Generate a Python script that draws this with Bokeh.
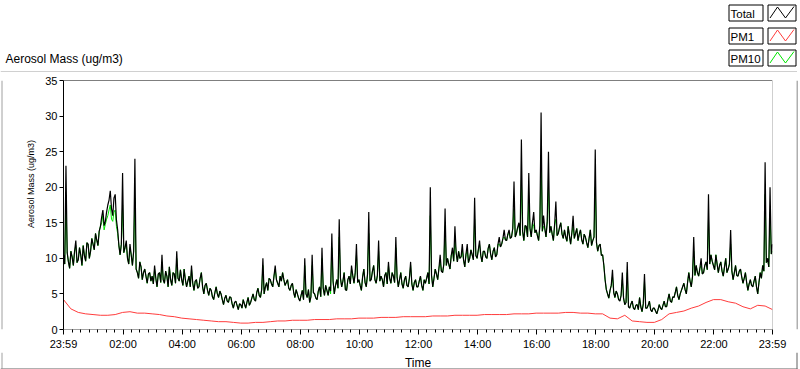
import math
from bokeh.plotting import figure
from bokeh.layouts import column, row
from bokeh.models import Range1d, FixedTicker, Span
from bokeh.core.properties import value
from bokeh.embed import file_html
from bokeh.resources import INLINE

# ---------------- data ----------------
# Total and PM10: one reading every 2.5 minutes after 23:59 (24 readings per hour)
total = [
    10.5, 9.2, 23.0, 10.8, 9.5, 8.6, 11.0, 10.2, 9.0, 11.0, 12.5, 9.4, 9.8, 11.5, 10.5, 9.0, 11.8, 10.4, 9.6, 12.2, 12.0, 10.0, 11.0, 12.8,
    12.0, 11.2, 13.5, 12.6, 11.8, 13.8, 14.5, 15.8, 16.8, 14.6, 15.2, 16.5, 17.5, 18.2, 19.5, 17.0, 16.0, 18.5, 19.0, 15.4, 14.0, 11.8, 10.5, 12.0,
    22.0, 10.8, 11.5, 12.5, 10.0, 9.2, 12.0, 10.5, 9.0, 11.0, 24.0, 8.5, 8.0, 7.2, 9.5, 8.8, 7.0, 8.0, 8.5, 7.5, 6.5, 7.8, 8.0, 6.8,
    7.5, 6.4, 9.0, 7.2, 6.0, 7.8, 8.0, 6.6, 10.5, 7.0, 6.5, 8.2, 7.5, 6.0, 8.8, 7.0, 6.2, 8.0, 7.8, 6.5, 11.0, 7.2, 6.8, 8.4,
    7.0, 6.2, 8.5, 7.0, 6.0, 6.8, 7.5, 6.0, 9.0, 6.5, 5.5, 6.8, 7.0, 5.8, 6.0, 7.2, 8.0, 6.0, 5.0, 6.2, 6.5, 5.5, 4.8, 5.8,
    5.5, 4.6, 4.2, 5.2, 6.0, 5.0, 4.5, 5.4, 5.0, 4.2, 3.5, 4.4, 4.8, 4.0, 3.8, 4.6, 4.5, 3.6, 3.0, 3.8, 4.0, 3.4, 2.8, 3.6,
    3.5, 3.0, 4.2, 3.6, 3.0, 3.8, 4.5, 3.4, 3.8, 4.4, 5.0, 4.2, 4.0, 5.2, 5.8, 4.8, 4.5, 5.6, 10.0, 5.0, 6.0, 6.6, 5.5, 7.2,
    7.0, 6.4, 6.0, 7.5, 9.0, 7.0, 6.5, 6.0, 7.5, 6.8, 8.0, 7.0, 6.2, 6.6, 7.0, 5.8, 5.5, 6.2, 6.5, 5.2, 4.5, 5.6, 5.0, 4.4,
    4.0, 4.8, 5.5, 4.2, 10.0, 5.0, 4.5, 5.6, 3.8, 4.6, 10.5, 5.2, 5.0, 4.4, 4.2, 5.4, 6.0, 4.6, 11.5, 5.8, 4.8, 6.2, 5.5, 4.8,
    6.0, 5.4, 13.5, 6.8, 5.0, 6.2, 7.0, 5.8, 15.5, 7.2, 6.0, 6.8, 8.0, 5.6, 5.5, 7.0, 7.5, 6.4, 9.0, 7.6, 6.5, 8.0, 12.0, 6.6,
    7.0, 6.2, 5.5, 7.4, 8.5, 6.6, 6.0, 7.8, 16.5, 6.8, 7.0, 8.2, 9.0, 7.0, 6.5, 7.6, 12.5, 6.8, 7.5, 7.0, 6.0, 7.6, 8.0, 6.4,
    9.5, 7.2, 6.5, 8.0, 7.5, 6.6, 13.0, 7.4, 6.0, 7.0, 8.0, 6.4, 5.8, 7.0, 7.5, 6.2, 6.0, 7.2, 9.5, 6.4, 5.5, 6.6, 7.0, 6.0,
    6.0, 6.8, 7.5, 6.2, 5.5, 7.0, 6.5, 7.2, 8.0, 6.4, 20.0, 7.6, 6.0, 7.2, 8.5, 7.8, 7.0, 8.6, 10.5, 8.2, 8.0, 9.2, 17.0, 9.0,
    10.0, 9.2, 8.5, 10.4, 11.5, 9.6, 14.5, 10.8, 9.5, 11.0, 10.0, 10.2, 12.0, 9.8, 8.8, 10.6, 12.0, 9.4, 10.0, 11.2, 10.5, 9.8, 18.5, 10.4,
    10.0, 11.2, 12.5, 10.4, 9.5, 11.0, 11.0, 10.2, 10.0, 11.4, 12.0, 10.6, 9.8, 11.0, 11.5, 10.2, 10.5, 12.0, 13.0, 11.6, 12.0, 12.8, 14.0, 12.6,
    12.5, 13.4, 14.0, 12.8, 13.0, 14.2, 20.8, 13.0, 13.5, 14.4, 15.0, 13.2, 26.7, 13.8, 12.5, 14.6, 14.5, 13.0, 22.0, 14.2, 13.0, 15.0, 16.5, 13.6,
    14.0, 13.2, 12.5, 14.6, 30.5, 13.8, 16.0, 14.2, 13.0, 15.2, 25.0, 13.6, 14.5, 13.4, 12.5, 14.8, 18.0, 13.2, 13.5, 14.4, 15.0, 13.4, 12.8, 14.0,
    13.0, 12.4, 14.5, 13.2, 12.0, 13.6, 16.0, 12.8, 13.5, 14.2, 12.5, 13.4, 14.0, 12.6, 12.0, 13.4, 13.0, 12.2, 11.5, 12.8, 14.0, 11.8, 12.5, 13.0,
    25.3, 12.2, 11.0, 11.8, 12.0, 10.4, 10.5, 9.0, 7.0, 5.6, 5.0, 4.4, 5.5, 6.2, 8.4, 5.2, 4.5, 5.4, 5.0, 4.2, 4.0, 4.8, 8.0, 4.4,
    3.5, 3.8, 9.5, 3.2, 3.0, 3.6, 4.0, 3.0, 2.8, 3.4, 3.5, 2.8, 4.5, 3.2, 2.5, 3.6, 7.8, 3.0, 3.0, 3.4, 4.0, 2.8, 2.5, 3.0,
    3.0, 2.6, 2.2, 2.8, 3.5, 3.0, 2.8, 3.4, 4.0, 3.2, 3.2, 4.2, 5.0, 4.0, 3.8, 4.6, 4.5, 5.2, 6.0, 4.8, 4.2, 5.0, 5.5, 6.0,
    6.5, 5.6, 5.0, 6.6, 8.0, 6.8, 6.0, 7.4, 13.0, 7.6, 9.0, 8.0, 7.5, 8.6, 10.0, 7.8, 8.0, 9.0, 9.5, 8.4, 19.0, 9.2, 10.5, 9.6,
    9.0, 8.4, 10.5, 9.2, 8.0, 9.0, 9.5, 8.2, 7.5, 8.8, 10.0, 8.0, 8.5, 9.2, 14.0, 8.2, 7.0, 8.0, 9.0, 7.6, 7.5, 8.2, 8.5, 7.4,
    6.5, 7.2, 8.0, 6.6, 5.5, 6.4, 7.0, 6.2, 6.0, 6.8, 7.5, 6.0, 5.0, 6.6, 8.0, 7.2, 9.0, 8.2, 23.5, 9.4, 10.0, 8.8, 20.0, 10.6,
    12.0,
]
pm10 = [
    10.5, 9.2, 18.0, 10.8, 9.5, 8.6, 11.0, 10.2, 9.0, 11.0, 11.8, 9.4, 9.8, 11.5, 10.5, 9.0, 11.8, 10.4, 9.6, 12.2, 12.0, 10.0, 11.0, 12.8,
    12.0, 11.2, 13.5, 12.6, 11.8, 13.8, 14.5, 15.0, 16.0, 14.0, 14.8, 15.5, 16.0, 16.8, 17.5, 15.5, 15.2, 16.5, 16.8, 14.5, 13.5, 11.8, 10.5, 12.0,
    17.5, 10.8, 11.5, 12.0, 10.0, 9.2, 11.5, 10.5, 9.0, 11.0, 18.5, 8.5, 8.0, 7.2, 9.5, 8.8, 7.0, 8.0, 8.5, 7.5, 6.5, 7.8, 8.0, 6.8,
    7.5, 6.4, 8.5, 7.2, 6.0, 7.8, 8.0, 6.6, 9.5, 7.0, 6.5, 8.2, 7.5, 6.0, 8.8, 7.0, 6.2, 8.0, 7.8, 6.5, 10.0, 7.2, 6.8, 8.4,
    7.0, 6.2, 8.5, 7.0, 6.0, 6.8, 7.5, 6.0, 8.5, 6.5, 5.5, 6.8, 7.0, 5.8, 6.0, 7.2, 8.0, 6.0, 5.0, 6.2, 6.5, 5.5, 4.8, 5.8,
    5.5, 4.6, 4.2, 5.2, 6.0, 5.0, 4.5, 5.4, 5.0, 4.2, 3.5, 4.4, 4.8, 4.0, 3.8, 4.6, 4.5, 3.6, 3.0, 3.8, 4.0, 3.4, 2.8, 3.6,
    3.5, 3.0, 4.2, 3.6, 3.0, 3.8, 4.5, 3.4, 3.8, 4.4, 5.0, 4.2, 4.0, 5.2, 5.8, 4.8, 4.5, 5.6, 9.0, 5.0, 6.0, 6.6, 5.5, 7.2,
    7.0, 6.4, 6.0, 7.5, 8.5, 7.0, 6.5, 6.0, 7.5, 6.8, 8.0, 7.0, 6.2, 6.6, 7.0, 5.8, 5.5, 6.2, 6.5, 5.2, 4.5, 5.6, 5.0, 4.4,
    4.0, 4.8, 5.5, 4.2, 9.0, 5.0, 4.5, 5.6, 3.8, 4.6, 9.0, 5.2, 5.0, 4.4, 4.2, 5.4, 6.0, 4.6, 10.0, 5.8, 4.8, 6.2, 5.5, 4.8,
    6.0, 5.0, 11.5, 6.8, 5.0, 6.2, 7.0, 5.8, 13.0, 7.2, 6.0, 6.8, 8.0, 5.6, 5.5, 7.0, 7.5, 6.4, 8.5, 7.6, 6.5, 8.0, 10.5, 6.6,
    7.0, 6.2, 5.5, 7.4, 8.5, 6.6, 6.0, 7.8, 13.5, 6.8, 7.0, 8.2, 9.0, 7.0, 6.5, 7.6, 11.0, 6.8, 7.5, 7.0, 6.0, 7.6, 8.0, 6.4,
    9.0, 7.2, 6.5, 8.0, 7.5, 6.6, 11.5, 7.4, 6.0, 7.0, 8.0, 6.4, 5.8, 7.0, 7.5, 6.2, 6.0, 7.2, 9.0, 6.4, 5.5, 6.6, 7.0, 6.0,
    6.0, 6.8, 7.5, 6.2, 5.5, 7.0, 6.5, 7.2, 8.0, 6.4, 16.0, 7.6, 6.0, 7.2, 8.5, 7.8, 7.0, 8.6, 9.5, 8.2, 8.0, 9.2, 14.5, 9.0,
    10.0, 9.2, 8.5, 10.4, 11.0, 9.6, 12.5, 10.8, 9.5, 11.0, 10.0, 10.2, 11.0, 9.8, 8.8, 10.6, 11.0, 9.4, 10.0, 11.2, 10.5, 9.8, 15.5, 10.4,
    10.0, 11.2, 12.0, 10.4, 9.5, 11.0, 11.0, 10.2, 10.0, 11.4, 12.0, 10.6, 9.8, 11.0, 11.5, 10.2, 10.5, 12.0, 12.0, 11.6, 12.0, 12.8, 13.0, 12.6,
    12.5, 13.4, 13.5, 12.8, 13.0, 14.2, 17.0, 13.0, 13.5, 14.4, 14.5, 13.2, 21.0, 13.8, 12.5, 14.6, 14.0, 13.0, 18.0, 14.2, 13.0, 15.0, 14.5, 13.6,
    14.0, 13.2, 12.5, 14.6, 24.0, 13.8, 14.5, 14.2, 13.0, 15.2, 20.0, 13.6, 14.5, 13.4, 12.5, 14.8, 15.5, 13.2, 13.5, 14.4, 15.0, 13.4, 12.8, 14.0,
    13.0, 12.4, 14.5, 13.2, 12.0, 13.6, 14.5, 12.8, 13.5, 14.2, 12.5, 13.4, 14.0, 12.6, 12.0, 13.4, 13.0, 12.2, 11.5, 12.8, 14.0, 11.8, 12.5, 13.0,
    20.0, 12.2, 11.0, 11.8, 12.0, 10.4, 10.5, 9.0, 7.0, 5.6, 5.0, 4.4, 5.5, 6.2, 7.5, 5.2, 4.5, 5.4, 5.0, 4.2, 4.0, 4.8, 7.0, 4.4,
    3.5, 3.8, 8.0, 3.2, 3.0, 3.6, 4.0, 3.0, 2.8, 3.4, 3.5, 2.8, 4.5, 3.2, 2.5, 3.6, 6.8, 3.0, 3.0, 3.4, 4.0, 2.8, 2.5, 3.0,
    3.0, 2.6, 2.2, 2.8, 3.5, 3.0, 2.8, 3.4, 4.0, 3.2, 3.2, 4.2, 5.0, 4.0, 3.8, 4.6, 4.5, 5.2, 6.0, 4.8, 4.2, 5.0, 5.5, 6.0,
    6.5, 5.6, 5.0, 6.6, 8.0, 6.8, 6.0, 7.4, 11.0, 7.6, 9.0, 8.0, 7.5, 8.6, 9.0, 7.8, 8.0, 9.0, 9.5, 8.4, 15.5, 9.2, 10.5, 9.6,
    9.0, 8.4, 10.5, 9.2, 8.0, 9.0, 9.5, 8.2, 7.5, 8.8, 10.0, 8.0, 8.5, 9.2, 12.0, 8.2, 7.0, 8.0, 9.0, 7.6, 7.5, 8.2, 8.5, 7.4,
    6.5, 7.2, 8.0, 6.6, 5.5, 6.4, 7.0, 6.2, 6.0, 6.8, 7.5, 6.0, 5.0, 6.6, 8.0, 7.2, 9.0, 8.2, 19.0, 9.4, 10.0, 8.8, 16.5, 10.6,
    11.0,
]
total_minutes = [i * 2.5 for i in range(len(total))]

# PM1: one reading every 15 minutes
pm1 = [
    4.2, 2.9, 2.4, 2.2, 2.1, 2.0, 2.0, 2.1,
    2.4, 2.5, 2.3, 2.3, 2.2, 2.1, 1.9, 1.8,
    1.6, 1.5, 1.4, 1.3, 1.2, 1.1, 1.1, 1.0,
    0.9, 0.9, 1.0, 1.0, 1.1, 1.2, 1.2, 1.3,
    1.3, 1.3, 1.4, 1.4, 1.4, 1.5, 1.5, 1.5,
    1.6, 1.6, 1.6, 1.7, 1.7, 1.7, 1.8, 1.8,
    1.8, 1.8, 1.9, 1.9, 1.9, 2.0, 2.0, 2.0,
    2.0, 2.1, 2.1, 2.1, 2.1, 2.2, 2.2, 2.2,
    2.3, 2.3, 2.3, 2.3, 2.4, 2.4, 2.3, 2.3,
    2.2, 2.2, 1.6, 1.5, 2.0, 1.2, 1.1, 1.0,
    1.0, 1.4, 2.2, 2.4, 2.6, 3.0, 3.3, 3.8,
    4.2, 4.2, 3.9, 3.7, 3.2, 2.9, 3.4, 3.3,
    2.8,
]
pm1_minutes = list(range(0, 1441, 15))

x_tick_minutes = [0, 121, 241, 361, 481, 601, 721, 841, 961, 1081, 1201, 1321, 1440]
x_tick_labels = ["23:59", "02:00", "04:00", "06:00", "08:00", "10:00", "12:00",
                 "14:00", "16:00", "18:00", "20:00", "22:00", "23:59"]
y_ticks = [0, 5, 10, 15, 20, 25, 30, 35]
series_names = ["Total", "PM1", "PM10"]
series_colors = ["#000000", "#ff3c3c", "#00e600"]
chart_title = "Aerosol Mass (ug/m3)"
x_title = "Time"

FONT = "Liberation Sans"
GREY = "#a0a0a0"
DARK = "#606060"


def deco_fig(w, h):
    """Blank strip whose units are page pixels (y pointing down)."""
    f = figure(width=w, height=h, output_backend="svg", toolbar_location=None,
               x_range=Range1d(0, w), y_range=Range1d(h, 0),
               x_axis_type=None, y_axis_type=None, min_border=0,
               background_fill_color="white", border_fill_color="white")
    f.outline_line_color = None
    return f


def put_text(f, x, y, s, size, align="left", angle=0.0):
    f.text(x=[x], y=[y], text=[s], text_font=value(FONT), text_font_size=value(size),
           text_align=align, text_baseline="middle", text_color="black", angle=angle)


# ---------- top strip: title, legend, top edge of the chart box ----------
top = deco_fig(800, 72)
put_text(top, 5, 58, chart_title, "12px")
row_tops = [4.5, 27.5, 49.5]
for name, col, t in zip(series_names, series_colors, row_tops):
    b = t + 16
    top.quad(left=[728.5, 767.5], right=[762.5, 795.5], top=[t, t], bottom=[b, b],
             fill_color=None, line_color="black", line_width=1)
    put_text(top, 730, t + 8.5, name, "11.5px")
    top.line([769.5, 777, 785, 793.5], [b - 3, t + 2, b - 3, t + 1.5],
             line_color=col, line_width=1)
top.segment(x0=[0], y0=[71.5], x1=[796.5], y1=[71.5], line_color=GREY, line_width=1)

# ---------- left strip: y title and left edge ----------
left = deco_fig(40, 280)
left.segment(x0=[1.5], y0=[0], x1=[1.5], y1=[280], line_color=GREY, line_width=1)
put_text(left, 30, 188.5 - 72, chart_title, "9px", align="center", angle=math.pi / 2)

# ---------- right strip: right edge ----------
right = deco_fig(4, 280)
right.segment(x0=[0.5], y0=[0], x1=[0.5], y1=[280], line_color=DARK, line_width=1)

# ---------- bottom strip: x title and bottom edge ----------
bottom = deco_fig(800, 17)
put_text(bottom, 417.5, 10, x_title, "12px", align="center")
bottom.segment(x0=[1.5, 0, 796.5], y0=[0, 16.5, 0], x1=[1.5, 797, 796.5], y1=[16, 16.5, 17],
               line_color=[GREY, DARK, DARK], line_width=1)

# ---------- main chart ----------
p = figure(width=756, height=280, output_backend="svg", toolbar_location=None,
           x_range=Range1d(0, 1440), y_range=Range1d(0, 35),
           min_border_left=23, min_border_right=24, min_border_top=8, min_border_bottom=22,
           background_fill_color="white", border_fill_color="white")
p.outline_line_color = None
p.grid.visible = False

minor = []
step = 120 / 7
for k in range(-7, 80):
    m = 121 + k * step
    if 0 < m < 1440 and all(abs(m - t) > 2 for t in x_tick_minutes):
        minor.append(m)

xa = p.xaxis[0]
xa.ticker = FixedTicker(ticks=x_tick_minutes, minor_ticks=minor)
xa.major_label_overrides = dict(zip(x_tick_minutes, x_tick_labels))
xa.axis_line_color = GREY
xa.major_tick_out = 5
xa.major_tick_in = 0
xa.minor_tick_out = 3
xa.minor_tick_in = 0
xa.major_tick_line_color = "black"
xa.minor_tick_line_color = "black"
xa.major_label_standoff = 3
xa.major_label_text_font = FONT
xa.major_label_text_font_size = "11px"
xa.major_label_text_color = "black"

ya = p.yaxis[0]
ya.ticker = FixedTicker(ticks=y_ticks)
ya.minor_tick_line_color = None
ya.axis_line_color = "black"
ya.major_tick_out = 4
ya.major_tick_in = 0
ya.major_tick_line_color = "black"
ya.major_label_standoff = 2
ya.major_label_text_font = FONT
ya.major_label_text_font_size = "11px"
ya.major_label_text_color = "black"

p.add_layout(Span(location=35, dimension="width", line_color="black", line_width=1))
p.add_layout(Span(location=1440, dimension="height", line_color=GREY, line_width=1))

p.line(total_minutes, pm10, line_color=series_colors[2], line_width=1)
p.line(total_minutes, total, line_color=series_colors[0], line_width=1.2)
p.line(pm1_minutes, pm1, line_color=series_colors[1], line_width=1)

layout = column(top, row(left, p, right), bottom)

open("out.html", "w").write(file_html(layout, INLINE))
